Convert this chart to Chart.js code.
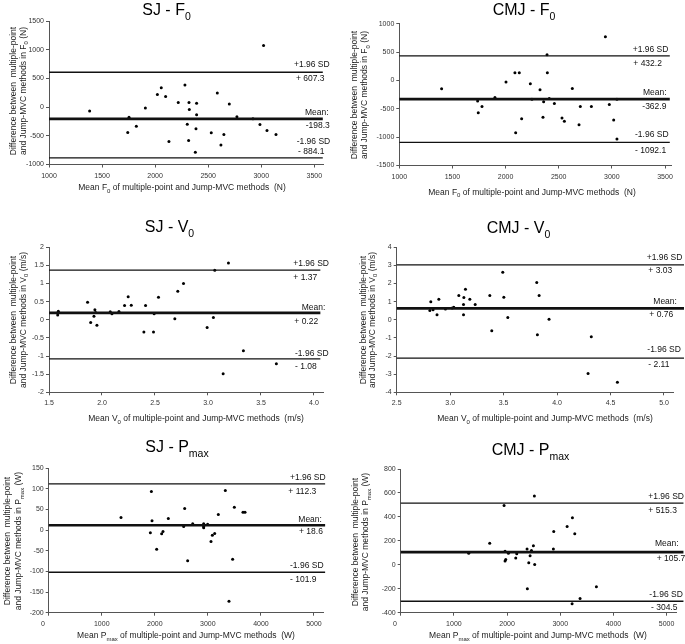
<!DOCTYPE html>
<html><head><meta charset="utf-8">
<script src="https://cdn.jsdelivr.net/npm/chart.js@4"></script>
<style>
html,body{margin:0;padding:0;background:#fff;}
#wrap{position:relative;width:685px;height:644px;overflow:hidden;background:#fff;}
#wrap canvas{position:absolute;}
</style></head><body><div id="wrap"></div>
<script>
// ---------- DATA ----------
// SJ - F0
const sjF0X = [3022,2281,2058,2021,2099,2586,2218,2319,2391,2699,1383,1908,2322,2391,1754,2771,2922,1823,2303,2988,1742,2385,2529,2648,3054,3139,2130,2316,2620,2379];
const sjF0Y = [1075,385,339,218,184,247,80,80,69,52,-69,-17,-40,-132,-178,-167,-205,-333,-299,-305,-443,-379,-448,-477,-408,-477,-598,-580,-661,-787];
const sjF0Lines = [607.3, -205, -884.1];
const sjF0Labels = ['+ 607.3', '-198.3', '- 884.1'];
const sjF0XRange = [1000, 3582];
const sjF0YRange = [-1000, 1500];
const sjF0XTicks = [1000, 1500, 2000, 2500, 3000, 3500];
const sjF0YTicks = [-1000, -500, 0, 500, 1000, 1500];

// CMJ - F0
const cmjF0X = [2939,2390,2088,2129,2393,2004,1398,2233,2324,2628,1900,2411,1737,1778,2358,2459,2703,2807,2976,1743,2151,2352,2531,2553,2691,3017,2095,3048,2248,3048];
const cmjF0Y = [769,452,135,135,135,-29,-147,-59,-164,-141,-299,-317,-364,-458,-376,-405,-458,-458,-423,-569,-675,-651,-663,-722,-781,-698,-921,-1033,-330,-330];
const cmjF0Lines = [432.2, -330, -1092.1];
const cmjF0Labels = ['+ 432.2', '-362.9', '- 1092.1'];
const cmjF0XRange = [1000, 3563];
const cmjF0YRange = [-1500, 1000];
const cmjF0XTicks = [1000, 1500, 2000, 2500, 3000, 3500];
const cmjF0YTicks = [-1500, -1000, -500, 0, 500, 1000];

// SJ - V0
const sjV0X = [3.193,3.064,2.769,2.715,1.864,2.247,2.533,2.213,2.276,2.411,1.588,1.582,1.933,1.924,1.893,1.952,2.078,2.094,2.160,2.492,2.687,3.051,2.395,2.486,2.992,3.334,3.645,3.143,1.940];
const sjV0Y = [1.569,1.367,1.0,0.789,0.486,0.633,0.624,0.394,0.404,0.394,0.239,0.13,0.275,0.10,-0.073,-0.147,0.220,0.165,0.229,0.165,0.028,0.064,-0.339,-0.339,-0.211,-0.853,-1.211,-1.486,0.2];
const sjV0Lines = [1.37, 0.19, -1.08];
const sjV0Labels = ['+ 1.37', '+ 0.22', '- 1.08'];
const sjV0XRange = [1.5, 4.085];
const sjV0YRange = [-2, 2];
const sjV0XTicks = [1.5, 2.0, 2.5, 3.0, 3.5, 4.0];
const sjV0YTicks = [-2, -1.5, -1, -0.5, 0, 0.5, 1, 1.5, 2];

// CMJ - V0
const cmjV0X = [3.492,3.81,3.143,3.081,3.128,3.371,3.502,3.832,2.894,3.184,2.819,3.125,3.234,2.81,2.84,2.956,3.019,3.034,2.877,3.125,3.539,3.925,3.389,3.816,4.32,4.29,4.564];
const cmjV0Y = [2.63,2.06,1.69,1.34,1.23,1.34,1.25,1.34,1.14,1.14,0.99,0.85,0.85,0.51,0.55,0.59,0.65,0.69,0.28,0.28,0.13,0.03,-0.61,-0.83,-0.94,-2.96,-3.44];
const cmjV0Lines = [3.03, 0.63, -2.11];
const cmjV0Labels = ['+ 3.03', '+ 0.76', '- 2.11'];
const cmjV0XRange = [2.5, 5.087];
const cmjV0YRange = [-4, 4];
const cmjV0XTicks = [2.5, 3.0, 3.5, 4.0, 4.5, 5.0];
const cmjV0YTicks = [-4, -3, -2, -1, 0, 1, 2, 3, 4];

// SJ - Pmax
const sjPX = [3329,1935,3499,2563,3662,3700,3197,1363,2255,1947,2714,2921,2996,2544,2921,2921,1916,2154,2129,3128,3084,3059,2035,2619,3467,3398];
const sjPY = [96.1,93.7,55.7,52.5,43.6,43.6,38,30.7,28.3,22.6,15.3,15.3,14.5,8.9,8.9,5.7,-6.5,-3.2,-8.9,-8.1,-12.1,-27.5,-46,-74.3,-70.3,-172];
const sjPLines = [112.3, 12, -101.9];
const sjPLabels = ['+ 112.3', '+ 18.6', '- 101.9'];
const sjPXRange = [0, 5170];
const sjPYRange = [-200, 150];
const sjPXTicks = [0, 1000, 2000, 3000, 4000, 5000];
const sjPYTicks = [-200, -150, -100, -50, 0, 50, 100, 150];

// CMJ - Pmax
const cmjPX = [2514,1944,3229,3129,2878,3273,1674,2495,1962,2376,2458,2871,1279,2025,2182,2433,1975,1962,2163,2408,2520,2382,3680,3373,3223];
const cmjPY = [574,496,393,320,279,259,181,159,114,131,120,131,97,97,92,75,45,31,56,17,3,-201,-184,-281,-326];
const cmjPLines = [515.3, 106, -304.5];
const cmjPLabels = ['+ 515.3', '+ 105.7', '- 304.5'];
const cmjPXRange = [0, 5190];
const cmjPYRange = [-400, 800];
const cmjPXTicks = [0, 1000, 2000, 3000, 4000, 5000];
const cmjPYTicks = [-400, -200, 0, 200, 400, 600, 800];

const sdTexts = ['+1.96 SD', 'Mean:', '-1.96 SD'];

// ---------- LAYOUT ----------
const FONT = '"Liberation Sans", Arial, Helvetica, sans-serif';
const mid = ' of multiple-point and Jump-MVC methods  ';
const yL1 = 'Difference between  multiple-point';
const fmtInt = v => String(v);
const fmtDec = v => String(+(+v).toFixed(2));
const fmt1 = v => (+v).toFixed(1);
const fmtP = v => v === 0 ? '0      ' : String(v);

const panels = [
 {box:[0,0,340,215], area:[49,21,323,164.5], x:sjF0X, y:sjF0Y, xr:sjF0XRange, yr:sjF0YRange, xt:sjF0XTicks, yt:sjF0YTicks, lines:sjF0Lines, lineEnd:3580, labels:sjF0Labels, xFmt:fmtInt, yFmt:fmtInt,
  title:{segs:[['SJ - F',0],['0',1]], x:166.5, y:15},
  xTitle:{segs:[['Mean F',0],['0',1],[mid+'(N)',0]], x:182, y:187},
  yTitle:{l2:[['and Jump-MVC methods in F',0],['0',1],[' (N)',0]], xs:[13,22.7], cy:91},
  lab:{dx:[-29,-27,-18,-17.3,-26.3,-25], dy:[-7.4,6.6,-6.7,7,-16,-6.6]}},
 {box:[340,0,345,215], area:[399.3,23.7,671.7,165.5], x:cmjF0X, y:cmjF0Y, xr:cmjF0XRange, yr:cmjF0YRange, xt:cmjF0XTicks, yt:cmjF0YTicks, lines:cmjF0Lines, lineEnd:3545, labels:cmjF0Labels, xFmt:fmtInt, yFmt:fmtInt,
  title:{segs:[['CMJ - F',0],['0',1]], x:524, y:15},
  xTitle:{segs:[['Mean F',0],['0',1],[mid+'(N)',0]], x:532, y:191.7},
  yTitle:{l2:[['and Jump-MVC methods in F',0],['0',1],[' (N)',0]], xs:[354,364], cy:95},
  lab:{dx:[-39,-38.4,-28.7,-29.4,-36.7,-36.7], dy:[-6.3,7.4,-6.4,7.3,-7.4,8.6]}},
 {box:[0,215,340,215], area:[49,247.3,323,392.3], x:sjV0X, y:sjV0Y, xr:sjV0XRange, yr:sjV0YRange, xt:sjV0XTicks, yt:sjV0YTicks, lines:sjV0Lines, lineEnd:4.06, labels:sjV0Labels, xFmt:fmt1, yFmt:fmtDec,
  title:{segs:[['SJ - V',0],['0',1]], x:169.5, y:231.7},
  xTitle:{segs:[['Mean V',0],['0',1],[mid+'(m/s)',0]], x:196, y:418},
  yTitle:{l2:[['and Jump-MVC methods in V',0],['0',1],[' (m/s)',0]], xs:[13,22.7], cy:320},
  lab:{dx:[-29.7,-29.7,-21.3,-28.7,-28,-28], dy:[-6,8,-5.3,8.7,-5.7,8]}},
 {box:[340,215,345,215], area:[396.7,247.3,673.3,392.3], x:cmjV0X, y:cmjV0Y, xr:cmjV0XRange, yr:cmjV0YRange, xt:cmjV0XTicks, yt:cmjV0YTicks, lines:cmjV0Lines, lineEnd:5.187, labels:cmjV0Labels, xFmt:fmt1, yFmt:fmtInt,
  title:{segs:[['CMJ - V',0],['0',1]], x:518.5, y:233},
  xTitle:{segs:[['Mean V',0],['0',1],[mid+'(m/s)',0]], x:545, y:418},
  yTitle:{l2:[['and Jump-MVC methods in V',0],['0',1],[' (m/s)',0]], xs:[362.7,371.7], cy:320},
  lab:{dx:[-26.6,-25,-20,-24,-26,-25], dy:[-7.4,5.3,-6.7,6.3,-8,7]}},
 {box:[0,430,340,214], area:[48.7,468.3,323,612.7], x:sjPX, y:sjPY, xr:sjPXRange, yr:sjPYRange, xt:sjPXTicks, yt:sjPYTicks, lines:sjPLines, lineEnd:5210, labels:sjPLabels, xFmt:fmtP, yFmt:fmtInt,
  title:{segs:[['SJ - P',0],['max',1]], x:177, y:451.7},
  xTitle:{segs:[['Mean P',0],['max',1],[mid+'(W)',0]], x:186, y:635},
  yTitle:{l2:[['and Jump-MVC methods in P',0],['max',1],[' (W)',0]], xs:[7.3,18.3], cy:541},
  lab:{dx:[-33,-34.7,-24.7,-24,-33,-33], dy:[-6,8,-6,6.7,-6.7,7.7]}},
 {box:[340,430,345,214], area:[400.7,469,676.7,612.7], x:cmjPX, y:cmjPY, xr:cmjPXRange, yr:cmjPYRange, xt:cmjPXTicks, yt:cmjPYTicks, lines:cmjPLines, lineEnd:5317, labels:cmjPLabels, xFmt:fmtP, yFmt:fmtInt,
  title:{segs:[['CMJ - P',0],['max',1]], x:530.5, y:455},
  xTitle:{segs:[['Mean P',0],['max',1],[mid+'(W)',0]], x:538, y:635},
  yTitle:{l2:[['and Jump-MVC methods in P',0],['max',1],[' (W)',0]], xs:[355,365], cy:542},
  lab:{dx:[-28.4,-28.4,-21.7,-20,-27.4,-25.7], dy:[-6,8,-8,6.7,-7,6.4]}}
];

function richWidth(ctx, segs, size, sub){
  let w = 0;
  for (const [t,s] of segs){ ctx.font = (s?sub:size)+'px '+FONT; w += ctx.measureText(t).width; }
  return w;
}
function drawRich(ctx, segs, cx, by, size, sub, subDy){
  const w = richWidth(ctx, segs, size, sub);
  let x = cx - w/2;
  ctx.textAlign = 'left'; ctx.textBaseline = 'alphabetic';
  for (const [t,s] of segs){
    ctx.font = (s?sub:size)+'px '+FONT;
    ctx.fillText(t, x, by + (s?subDy:0));
    x += ctx.measureText(t).width;
  }
}

const wrap = document.getElementById('wrap');
const X_AXIS_H = 22;

panels.forEach(p => {
  const [bx, by, bw, bh] = p.box;
  const [al, at, ar, ab] = p.area;
  const cv = document.createElement('canvas');
  cv.width = bw; cv.height = bh;
  cv.style.left = bx+'px'; cv.style.top = by+'px';
  cv.style.width = bw+'px'; cv.style.height = bh+'px';
  wrap.appendChild(cv);

  const pts = p.x.map((v,i) => ({x:v, y:p.y[i]}));
  const lineDs = p.lines.map((lv,i) => ({
    type:'line',
    data:[{x:p.xr[0], y:lv},{x:p.lineEnd, y:lv}],
    borderColor:'#111', borderWidth: i===1 ? 2.6 : 1.3,
    pointRadius:0, fill:false, clip:false, tension:0
  }));

  const textPlugin = {
    id:'texts'+bx+'_'+by,
    afterDraw(chart){
      const ctx = chart.ctx;
      ctx.save();
      ctx.fillStyle = '#000';
      drawRich(ctx, p.title.segs, p.title.x - bx, p.title.y - by, 16, 10.5, 5);
      ctx.fillStyle = '#222';
      drawRich(ctx, p.xTitle.segs, p.xTitle.x - bx, p.xTitle.y - by + 3, 8.5, 6, 2.5);
      const lines = [[[yL1,0]], p.yTitle.l2];
      lines.forEach((segs, k) => {
        ctx.save();
        ctx.translate(p.yTitle.xs[k] - bx, p.yTitle.cy - by);
        ctx.rotate(-Math.PI/2);
        drawRich(ctx, segs, 0, 3, 8.5, 6, 2.5);
        ctx.restore();
      });
      const ys = chart.scales.y;
      const right = chart.chartArea.right;
      ctx.fillStyle = '#111';
      ctx.font = '8.5px '+FONT;
      ctx.textAlign = 'left'; ctx.textBaseline = 'middle';
      p.lines.forEach((lv,i) => {
        const py = ys.getPixelForValue(lv);
        ctx.fillText(sdTexts[i], right + p.lab.dx[2*i], py + p.lab.dy[2*i]);
        ctx.fillText(p.labels[i], right + p.lab.dx[2*i+1], py + p.lab.dy[2*i+1]);
      });
      ctx.restore();
    }
  };

  const axisCommon = {
    grid:{drawOnChartArea:false, drawTicks:true, tickLength:3, color:'#555', lineWidth:1},
    border:{display:true, color:'#555', width:1}
  };

  new Chart(cv, {
    type:'scatter',
    data:{datasets:[...lineDs, {
      type:'scatter', data:pts, pointRadius:1.5, pointBackgroundColor:'#000', pointBorderWidth:0, pointHoverRadius:1.5
    }]},
    options:{
      responsive:false, maintainAspectRatio:false, animation:false, events:[],
      layout:{padding:{left:0, top:at-by, right:(bx+bw)-ar, bottom:bh-(ab-by)-X_AXIS_H}},
      plugins:{legend:{display:false}, tooltip:{enabled:false}, title:{display:false}},
      scales:{
        x:Object.assign({type:'linear', position:'bottom', min:p.xr[0], max:p.xr[1],
           afterFit(s){ s.height = X_AXIS_H; },
           afterBuildTicks(s){ s.ticks = p.xt.map(v => ({value:v})); },
           ticks:{autoSkip:false, maxRotation:0, minRotation:0,
                  padding:4, color:'#333', font:{family:FONT, size:7}, callback:p.xFmt}}, axisCommon),
        y:Object.assign({type:'linear', position:'left', min:p.yr[0], max:p.yr[1],
           afterFit(s){ s.width = al - bx; },
           afterBuildTicks(s){ s.ticks = p.yt.map(v => ({value:v})); },
           ticks:{autoSkip:false,
                  padding:2, color:'#333', font:{family:FONT, size:7}, callback:p.yFmt}}, axisCommon)
      }
    },
    plugins:[textPlugin]
  });
});
</script>
</body></html>
